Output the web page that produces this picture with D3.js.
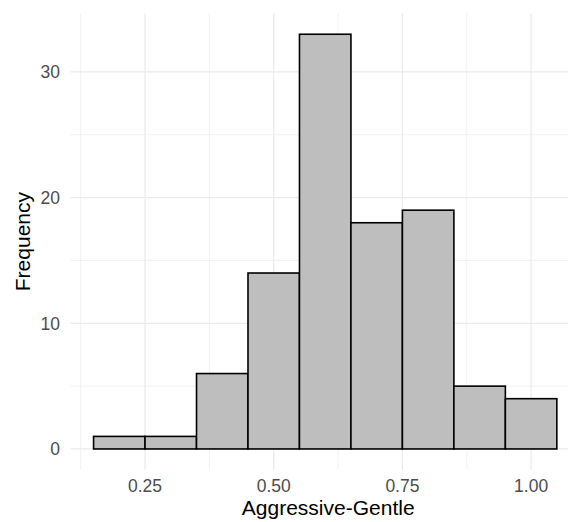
<!DOCTYPE html>
<html><head><meta charset="utf-8">
<script src="https://cdn.jsdelivr.net/npm/d3@7"></script>
<style>body{margin:0;background:#fff}svg{display:block}</style>
</head><body>
<script>
const binStarts = [0.15,0.25,0.35,0.45,0.55,0.65,0.75,0.85,0.95];
const binWidth = 0.1;
const counts = [1,1,6,14,33,18,19,5,4];
const xTicks = [0.25,0.50,0.75,1.00];
const xMinor = [0.125,0.375,0.625,0.875,1.125];
const yTicks = [0,10,20,30];
const yMinor = [5,15,25];

const W=568,H=522;
const svg=d3.select("body").append("svg").attr("width",W).attr("height",H);
const x=d3.scaleLinear().domain([0.105,1.095]).range([70.4,580]);
const y=d3.scaleLinear().domain([-1.65,34.65]).range([469.7,13.5]);
const pTop=y.range()[1], pBot=y.range()[0], pLeft=x.range()[0], pRight=W;

const g=svg.append("g");
g.selectAll(".ymin").data(yMinor).join("line").attr("x1",pLeft).attr("x2",pRight)
 .attr("y1",d=>y(d)).attr("y2",d=>y(d)).attr("stroke","#EBEBEB").attr("stroke-width",0.7);
g.selectAll(".xmin").data(xMinor).join("line").attr("y1",pTop).attr("y2",pBot)
 .attr("x1",d=>x(d)).attr("x2",d=>x(d)).attr("stroke","#EBEBEB").attr("stroke-width",0.7);
g.selectAll(".ymaj").data(yTicks).join("line").attr("x1",pLeft).attr("x2",pRight)
 .attr("y1",d=>y(d)).attr("y2",d=>y(d)).attr("stroke","#EBEBEB").attr("stroke-width",1.3);
g.selectAll(".xmaj").data(xTicks).join("line").attr("y1",pTop).attr("y2",pBot)
 .attr("x1",d=>x(d)).attr("x2",d=>x(d)).attr("stroke","#EBEBEB").attr("stroke-width",1.3);

svg.selectAll("rect.bar").data(counts).join("rect").attr("class","bar")
 .attr("x",(d,i)=>x(binStarts[i])).attr("width",(d,i)=>x(binStarts[i]+binWidth)-x(binStarts[i]))
 .attr("y",d=>y(d)).attr("height",d=>y(0)-y(d))
 .attr("fill","#BEBEBE").attr("stroke","#000").attr("stroke-width",1.6);

const font="Liberation Sans, Arial, sans-serif";
svg.selectAll("text.yt").data(yTicks).join("text").attr("class","yt")
 .attr("x",60).attr("y",d=>y(d)).attr("dy","0.36em").attr("text-anchor","end")
 .attr("font-family",font).attr("font-size",17.5).attr("fill","#4D4D4D").text(d=>d);
svg.selectAll("text.xt").data(xTicks).join("text").attr("class","xt")
 .attr("x",d=>x(d)).attr("y",492).attr("text-anchor","middle")
 .attr("font-family",font).attr("font-size",17.5).attr("fill","#4D4D4D").text(d=>d3.format(".2f")(d));
svg.append("text").attr("x",x(0.6)+3).attr("y",515).attr("text-anchor","middle")
 .attr("font-family",font).attr("font-size",21).attr("fill","#000").text("Aggressive-Gentle");
svg.append("text").attr("transform",`translate(30,${(pTop+pBot)/2}) rotate(-90)`)
 .attr("text-anchor","middle").attr("font-family",font).attr("font-size",21).attr("fill","#000").text("Frequency");
</script>
</body></html>
